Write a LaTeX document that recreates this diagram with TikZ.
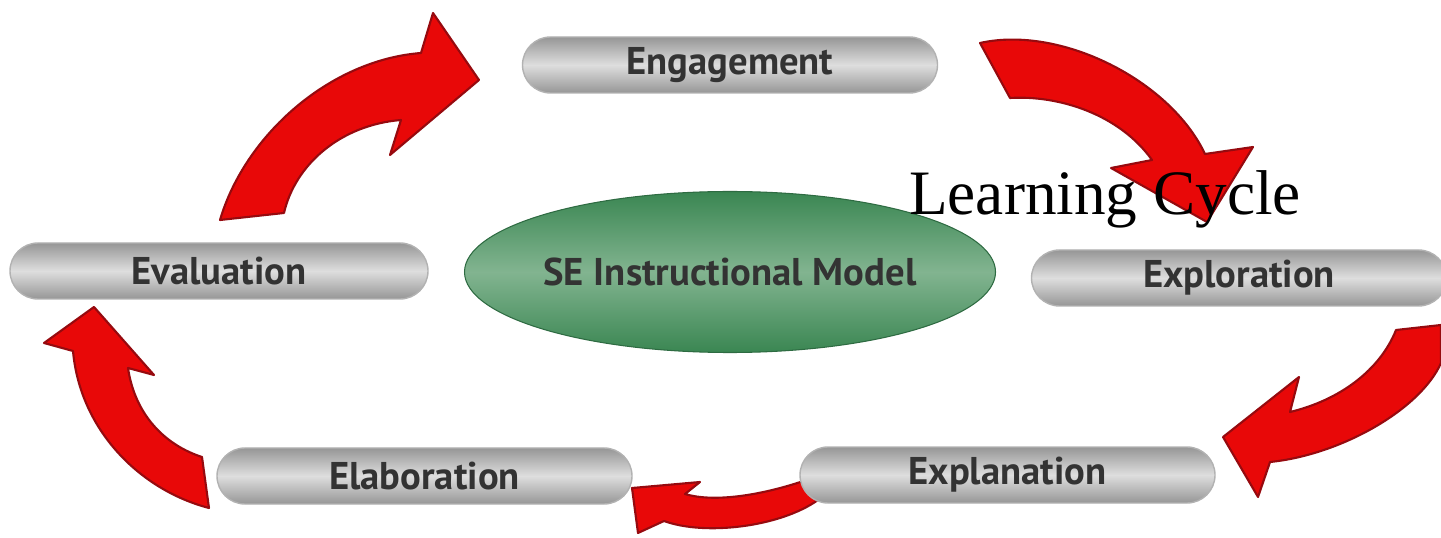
\documentclass[tikz,border=0pt]{standalone}
\usepackage{fontspec}
\setmainfont{Liberation Serif}
\newfontfamily\pillfont{PT Sans}
\usetikzlibrary{shapes.geometric}
\definecolor{arrowRed}{RGB}{232,8,8}
\definecolor{arrowDark}{RGB}{150,10,15}
\definecolor{pillDark}{RGB}{150,150,150}
\definecolor{pillLight}{RGB}{222,222,222}
\definecolor{modelDark}{RGB}{58,134,82}
\definecolor{modelLight}{RGB}{130,180,144}
\colorlet{labelText}{black!80}

\tikzset{
  phase/.style={shape=rectangle, rounded corners=0.28cm, draw=gray!60, line width=0.4pt,
    top color=pillDark, bottom color=pillDark, middle color=pillLight,
    minimum width=4.15cm, minimum height=0.56cm, inner sep=0pt,
    font=\pillfont\bfseries\fontsize{11pt}{13pt}\selectfont, text=labelText},
  cyclearrow/.style={fill=arrowRed, draw=arrowDark, line width=0.6pt, line join=round}
}

\begin{document}
\begin{tikzpicture}
	\useasboundingbox (0, 0) rectangle (14.41, 5.37);

	% --- Kreispfeile (rot, im Uhrzeigersinn) ---
	% Evaluation -> Engagement
	\path[cyclearrow] (2.20, 3.17) .. controls (2.45, 4.02) and (3.30, 4.77) .. (4.21, 4.84)
		-- (4.33, 5.24) -- (4.79, 4.57) -- (3.90, 3.82) -- (4.01, 4.17)
		.. controls (3.40, 4.12) and (2.95, 3.72) .. (2.84, 3.24) -- cycle;
	% Engagement -> Exploration
	\path[cyclearrow] (9.80, 4.94) .. controls (10.60, 5.12) and (11.70, 4.57) .. (12.05, 3.83)
		-- (12.53, 3.90) -- (12.07, 3.15) -- (11.11, 3.69) -- (11.52, 3.77)
		.. controls (11.20, 4.22) and (10.60, 4.42) .. (10.10, 4.39) -- cycle;
	% Exploration -> Explanation
	\path[cyclearrow] (13.96, 2.07) -- (14.41, 2.12) -- (14.41, 1.74)
		.. controls (14.20, 1.27) and (13.40, 0.82) .. (12.70, 0.75)
		-- (12.58, 0.40) -- (12.23, 1.00) -- (12.99, 1.60) -- (12.90, 1.25)
		.. controls (13.40, 1.37) and (13.80, 1.67) .. (13.96, 2.07) -- cycle;
	% Explanation -> Elaboration
	\path[cyclearrow] (8.12, 0.59) .. controls (7.65, 0.42) and (7.15, 0.34) .. (6.85, 0.43)
		-- (7.00, 0.55) -- (6.32, 0.49) -- (6.38, 0.04) -- (6.64, 0.16)
		.. controls (7.05, 0.01) and (7.80, 0.10) .. (8.18, 0.37) -- cycle;
	% Elaboration -> Evaluation
	\path[cyclearrow] (0.94, 2.30) -- (1.54, 1.62) -- (1.28, 1.69)
		.. controls (1.35, 1.22) and (1.65, 0.92) .. (2.02, 0.80) -- (2.09, 0.29)
		.. controls (1.40, 0.47) and (0.80, 1.07) .. (0.73, 1.86) -- (0.44, 1.94) -- cycle;

	% --- Phasen ---
	\node[phase] (engagement) at (7.30, 4.72){Engagement};
	\node[phase, minimum width=4.18cm] (evaluation) at (2.19, 2.66){Evaluation};
	\node[phase] (exploration) at (12.39, 2.59){Exploration};
	\node[phase] (elaboration) at (4.245, 0.61){Elaboration};
	\node[phase] (explanation) at (10.075, 0.62){Explanation};

	% --- Modell in der Mitte ---
	\node[shape=ellipse, top color=modelDark, bottom color=modelDark, middle color=modelLight,
		draw=modelDark!80!black, line width=0.3pt, inner sep=0pt, minimum width=5.31cm, minimum height=1.61cm,
		font=\pillfont\bfseries\fontsize{11pt}{13pt}\selectfont, text=labelText] (model) at (7.30, 2.65){SE Instructional Model};

	% --- Beschriftung ---
	\node[anchor=base west, inner sep=0pt, font=\fontsize{18pt}{21pt}\selectfont] (title) at (9.085, 3.22){Learning Cycle};

\end{tikzpicture}
\end{document}
